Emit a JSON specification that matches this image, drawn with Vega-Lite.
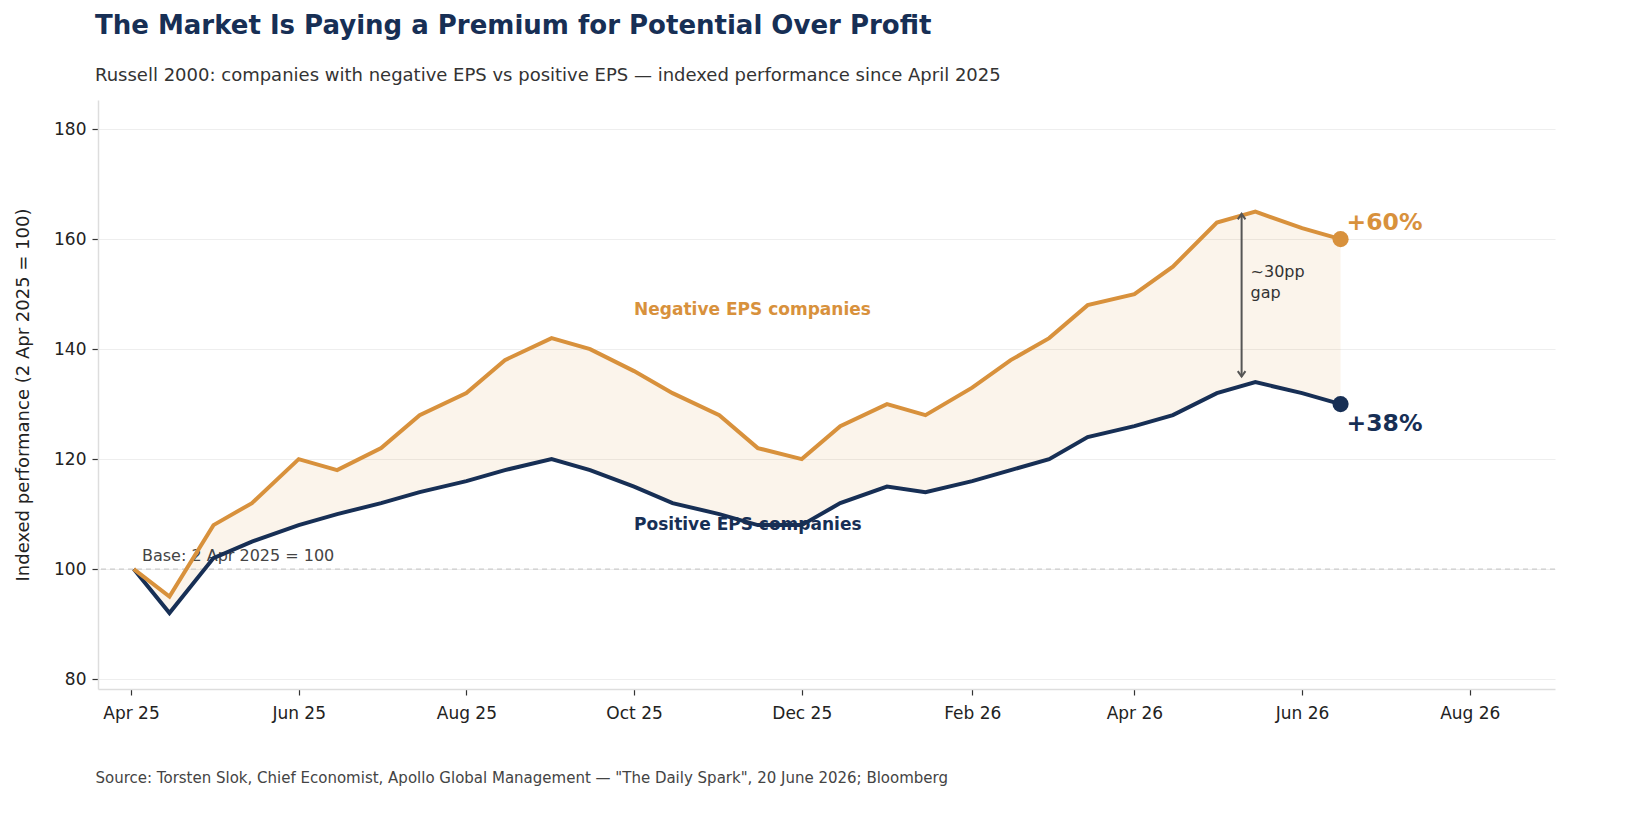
{
  "$schema": "https://vega.github.io/schema/vega-lite/v6.json",
  "width": 1457,
  "height": 589,
  "autosize": {"type": "none"},
  "padding": {"left": 98, "top": 100, "right": 78, "bottom": 144},
  "background": "white",
  "config": {
    "font": "DejaVu Sans",
    "view": {"stroke": null},
    "axis": {"labelFont": "DejaVu Sans", "titleFont": "DejaVu Sans"}
  },
  "title": {
    "text": "The Market Is Paying a Premium for Potential Over Profit",
    "subtitle": "Russell 2000: companies with negative EPS vs positive EPS — indexed performance since April 2025",
    "anchor": "start",
    "frame": "group",
    "font": "DejaVu Sans",
    "fontSize": 26,
    "fontWeight": "bold",
    "color": "#172f55",
    "subtitleFont": "DejaVu Sans",
    "subtitleFontSize": 18,
    "subtitleColor": "#333333",
    "subtitlePadding": 28,
    "offset": 15,
    "dx": -3
  },
  "datasets": {
    "series": [
      {"date": "2025-04-02", "neg": 100, "pos": 100},
      {"date": "2025-04-15", "neg": 95, "pos": 92},
      {"date": "2025-05-01", "neg": 108, "pos": 102},
      {"date": "2025-05-15", "neg": 112, "pos": 105},
      {"date": "2025-06-01", "neg": 120, "pos": 108},
      {"date": "2025-06-15", "neg": 118, "pos": 110},
      {"date": "2025-07-01", "neg": 122, "pos": 112},
      {"date": "2025-07-15", "neg": 128, "pos": 114},
      {"date": "2025-08-01", "neg": 132, "pos": 116},
      {"date": "2025-08-15", "neg": 138, "pos": 118},
      {"date": "2025-09-01", "neg": 142, "pos": 120},
      {"date": "2025-09-15", "neg": 140, "pos": 118},
      {"date": "2025-10-01", "neg": 136, "pos": 115},
      {"date": "2025-10-15", "neg": 132, "pos": 112},
      {"date": "2025-11-01", "neg": 128, "pos": 110},
      {"date": "2025-11-15", "neg": 122, "pos": 108},
      {"date": "2025-12-01", "neg": 120, "pos": 108},
      {"date": "2025-12-15", "neg": 126, "pos": 112},
      {"date": "2026-01-01", "neg": 130, "pos": 115},
      {"date": "2026-01-15", "neg": 128, "pos": 114},
      {"date": "2026-02-01", "neg": 133, "pos": 116},
      {"date": "2026-02-15", "neg": 138, "pos": 118},
      {"date": "2026-03-01", "neg": 142, "pos": 120},
      {"date": "2026-03-15", "neg": 148, "pos": 124},
      {"date": "2026-04-01", "neg": 150, "pos": 126},
      {"date": "2026-04-15", "neg": 155, "pos": 128},
      {"date": "2026-05-01", "neg": 163, "pos": 132},
      {"date": "2026-05-15", "neg": 165, "pos": 134},
      {"date": "2026-06-01", "neg": 162, "pos": 132},
      {"date": "2026-06-15", "neg": 160, "pos": 130}
    ]
  },
  "encoding": {
    "x": {
      "field": "date",
      "type": "temporal",
      "scale": {"domain": ["2025-03-20", "2026-09-01"]},
      "axis": {
        "values": [
          {"year": 2025, "month": 4, "date": 1},
          {"year": 2025, "month": 6, "date": 1},
          {"year": 2025, "month": 8, "date": 1},
          {"year": 2025, "month": 10, "date": 1},
          {"year": 2025, "month": 12, "date": 1},
          {"year": 2026, "month": 2, "date": 1},
          {"year": 2026, "month": 4, "date": 1},
          {"year": 2026, "month": 6, "date": 1},
          {"year": 2026, "month": 8, "date": 1}
        ],
        "format": "%b %y",
        "grid": false,
        "domainColor": "#dddddd",
        "domainWidth": 1.5,
        "tickColor": "#333333",
        "tickSize": 6,
        "tickWidth": 1.2,
        "labelFontSize": 17,
        "labelColor": "#222222",
        "labelPadding": 10,
        "title": "Source: Torsten Slok, Chief Economist, Apollo Global Management — \"The Daily Spark\", 20 June 2026; Bloomberg",
        "titleAnchor": "start",
        "titleAlign": "left",
        "titleFontSize": 15,
        "titleFontWeight": "normal",
        "titleColor": "#444444",
        "titlePadding": 49,
        "titleX": -3
      }
    }
  },
  "layer": [
    {
      "data": {"name": "series"},
      "mark": {"type": "area", "color": "#d8913c", "opacity": 0.1},
      "encoding": {
        "y": {
          "field": "neg",
          "type": "quantitative",
          "scale": {"domain": [78.2, 185.3], "nice": false, "zero": false},
          "axis": {
            "values": [80, 100, 120, 140, 160, 180],
            "title": "Indexed performance (2 Apr 2025 = 100)",
            "titleFontSize": 18,
            "titleFontWeight": "normal",
            "titleColor": "#222222",
            "titlePadding": 21,
            "grid": true,
            "gridColor": "#eeeeee",
            "gridWidth": 1.2,
            "domainColor": "#dddddd",
            "domainWidth": 1.5,
            "tickColor": "#333333",
            "tickSize": 6,
            "tickWidth": 1.2,
            "labelFontSize": 17,
            "labelColor": "#222222",
            "labelPadding": 6
          }
        },
        "y2": {"field": "pos"}
      }
    },
    {
      "data": {"values": [{"v": 100}]},
      "mark": {"type": "rule", "color": "#cccccc", "strokeWidth": 1.3, "strokeDash": [5, 4]},
      "encoding": {"y": {"field": "v", "type": "quantitative"}, "x": null}
    },
    {
      "data": {"values": [{"date": "2025-04-05", "v": 102.4, "label": "Base: 2 Apr 2025 = 100"}]},
      "mark": {"type": "text", "align": "left", "baseline": "middle", "fontSize": 16, "color": "#444444"},
      "encoding": {
        "y": {"field": "v", "type": "quantitative"},
        "text": {"field": "label"}
      }
    },
    {
      "data": {"name": "series"},
      "mark": {"type": "line", "color": "#172f55", "strokeWidth": 4, "strokeJoin": "miter"},
      "encoding": {"y": {"field": "pos", "type": "quantitative"}}
    },
    {
      "data": {"name": "series"},
      "mark": {"type": "line", "color": "#d8913c", "strokeWidth": 4, "strokeJoin": "miter"},
      "encoding": {"y": {"field": "neg", "type": "quantitative"}}
    },
    {
      "data": {"values": [
        {"date": "2026-06-15", "v": 160, "c": "neg"},
        {"date": "2026-06-15", "v": 130, "c": "pos"}
      ]},
      "mark": {"type": "circle", "size": 260, "opacity": 1},
      "encoding": {
        "y": {"field": "v", "type": "quantitative"},
        "color": {"field": "c", "type": "nominal", "scale": {"domain": ["neg", "pos"], "range": ["#d8913c", "#172f55"]}, "legend": null}
      }
    },
    {
      "data": {"values": [
        {"date": "2026-06-15", "v": 162.9, "c": "neg", "label": "+60%"},
        {"date": "2026-06-15", "v": 126.4, "c": "pos", "label": "+38%"}
      ]},
      "mark": {"type": "text", "align": "left", "baseline": "middle", "dx": 6, "fontSize": 23.5, "fontWeight": "bold"},
      "encoding": {
        "y": {"field": "v", "type": "quantitative"},
        "text": {"field": "label"},
        "color": {"field": "c", "type": "nominal", "scale": {"domain": ["neg", "pos"], "range": ["#d8913c", "#172f55"]}, "legend": null}
      }
    },
    {
      "data": {"values": [
        {"date": "2025-10-01", "v": 147.1, "c": "neg", "label": "Negative EPS companies"},
        {"date": "2025-10-01", "v": 108, "c": "pos", "label": "Positive EPS companies"}
      ]},
      "mark": {"type": "text", "align": "left", "baseline": "middle", "fontSize": 17, "fontWeight": "bold"},
      "encoding": {
        "y": {"field": "v", "type": "quantitative"},
        "text": {"field": "label"},
        "color": {"field": "c", "type": "nominal", "scale": {"domain": ["neg", "pos"], "range": ["#d8913c", "#172f55"]}, "legend": null}
      }
    },
    {
      "data": {"values": [{"date": "2026-05-10", "lo": 135, "hi": 164.6}]},
      "mark": {"type": "rule", "color": "#555555", "strokeWidth": 2},
      "encoding": {
        "y": {"field": "lo", "type": "quantitative"},
        "y2": {"field": "hi"}
      }
    },
    {
      "data": {"values": [{"date": "2026-05-10", "v": 164.6, "dir": "up"}]},
      "mark": {"type": "point", "shape": "M-0.7,1L0,0L0.7,1", "filled": false, "size": 120, "stroke": "#555555", "strokeWidth": 2, "opacity": 1},
      "encoding": {"y": {"field": "v", "type": "quantitative"}}
    },
    {
      "data": {"values": [{"date": "2026-05-10", "v": 135, "dir": "down"}]},
      "mark": {"type": "point", "shape": "M-0.7,-1L0,0L0.7,-1", "filled": false, "size": 120, "stroke": "#555555", "strokeWidth": 2, "opacity": 1},
      "encoding": {"y": {"field": "v", "type": "quantitative"}}
    },
    {
      "data": {"values": [{"date": "2026-05-10", "v": 155.5, "label": "~30pp\ngap"}]},
      "mark": {"type": "text", "align": "left", "baseline": "top", "dx": 9, "fontSize": 16, "lineHeight": 21, "lineBreak": "\n", "color": "#333333"},
      "encoding": {
        "y": {"field": "v", "type": "quantitative"},
        "text": {"field": "label"}
      }
    }
  ]
}
